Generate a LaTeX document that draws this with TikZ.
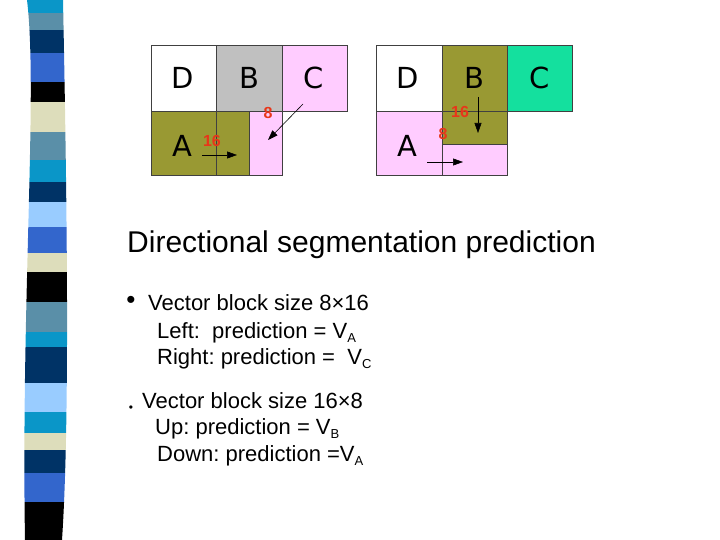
\documentclass[tikz,border=0pt]{standalone}
\usepackage{fontspec}
\setmainfont{Liberation Sans}
\newfontfamily\boxfont{DejaVu Sans}
\usetikzlibrary{arrows.meta}
\frenchspacing

\definecolor{sbcyan}{HTML}{0A96C8}
\definecolor{sbsteel}{HTML}{5A8FA8}
\definecolor{sbnavy}{HTML}{003366}
\definecolor{sbroyal}{HTML}{3366CC}
\definecolor{sbbeige}{HTML}{DDDDBB}
\definecolor{sblight}{HTML}{99CCFF}
\definecolor{mvolive}{HTML}{999933}
\definecolor{mvpink}{HTML}{FFCCFF}
\definecolor{mvgray}{HTML}{C0C0C0}
\definecolor{mvgreen}{HTML}{14E09E}
\definecolor{mvred}{HTML}{E8361A}

\tikzset{
  cell/.style={draw=black!75, line width=0.8pt},
  blk/.style={font=\boxfont\fontsize{29}{29}\selectfont},
  num/.style={text=mvred, inner sep=0pt, font=\bfseries\fontsize{16}{16}\selectfont},
  mv/.style={-{Triangle[length=10pt,width=7pt]}, line width=0.6pt},
  txt/.style={anchor=base west, inner sep=0pt, font=\fontsize{22}{22}\selectfont},
}
\newcommand{\sub}[1]{\raisebox{-4.5pt}{\fontsize{13}{13}\selectfont #1}}

\begin{document}
\begin{tikzpicture}[x=1pt,y=-1pt]
  \useasboundingbox (0,0) rectangle (720,540);

  % side stripe
  \begin{scope}
    \clip (27,0) .. controls (38,90) and (21,300) .. (25,540) -- (62,540)
      .. controls (70,420) and (67,200) .. (63,0) -- cycle;
    \foreach \ya/\yb/\col in {0/13/sbcyan, 13/30/sbsteel, 30/53/sbnavy,
        53/82/sbroyal, 82/102/black, 102/132/sbbeige, 132/160/sbsteel,
        160/182/sbcyan, 182/202/sbnavy, 202/227/sblight, 227/253/sbroyal,
        253/272/sbbeige, 272/302/black, 302/332/sbsteel, 332/347/sbcyan,
        347/383/sbnavy, 383/412/sblight, 412/433/sbcyan, 433/450/sbbeige,
        450/473/sbnavy, 473/502/sbroyal, 502/540/black}
      \fill[\col] (0,\ya) rectangle (90,\yb);
  \end{scope}

  % left block: 8x16
  \draw[cell, fill=white] (151,45) rectangle (216,111);
  \draw[cell, fill=mvgray] (216,45) rectangle (282,111);
  \draw[cell, fill=mvpink] (282,45) rectangle (347,111);
  \draw[cell, fill=mvolive] (151,111) rectangle (249,175);
  \draw[cell] (216,111) -- (216,175);
  \draw[cell, fill=mvpink] (249,111) rectangle (282,175);

  \node[blk] (lD) at (183,78) {D};
  \node[blk] (lB) at (249,78) {B};
  \node[blk] (lC) at (314,78) {C};
  \node[blk] (lA) at (182,146) {A};
  \node[num] (l8) at (268,113) {8};
  \node[num] (l16) at (212,141) {16};

  \coordinate (la1) at (202,155);
  \coordinate (la2) at (237,155);
  \coordinate (lc1) at (303,104);
  \coordinate (lc2) at (268,140);
  \draw[mv] (la1) -- (la2);
  \draw[mv] (lc1) -- (lc2);

  % right block: 16x8
  \draw[cell, fill=white] (376,45) rectangle (442,111);
  \draw[cell, fill=mvolive] (442,45) rectangle (507,111);
  \draw[cell, fill=mvgreen] (507,45) rectangle (572,111);
  \draw[cell, fill=mvpink] (376,111) rectangle (442,175);
  \draw[cell, fill=mvolive] (442,111) rectangle (507,144);
  \draw[cell, fill=mvpink] (442,144) rectangle (507,175);

  \node[blk] (rD) at (408,78) {D};
  \node[blk] (rB) at (474,78) {B};
  \node[blk] (rC) at (540,78) {C};
  \node[blk] (rA) at (407,146) {A};
  \node[num] (r16) at (460,112) {16};
  \node[num] (r8) at (443,134) {8};

  \coordinate (rb1) at (478,97);
  \coordinate (rb2) at (478,133);
  \coordinate (ra1) at (427,162);
  \coordinate (ra2) at (463,162);
  \draw[mv] (rb1) -- (rb2);
  \draw[mv] (ra1) -- (ra2);

  % text
  \node[anchor=base west, inner sep=0pt, font=\fontsize{30}{30}\selectfont] (title) at (127,252)
    {Directional segmentation prediction};

  \node[inner sep=0pt, font=\fontsize{26}{26}\selectfont] (bul1) at (131,302) {•};
  \node[txt] (v1) at (148,310) {Vector block size 8×16};
  \node[txt] (v1a) at (157,338) {Left:\ \ prediction = V\sub{A}};
  \node[txt] (v1b) at (157,364) {Right: prediction = \ V\sub{C}};

  \node[inner sep=0pt, font=\fontsize{12}{12}\selectfont] (bul2) at (131,409) {•};
  \node[txt] (v2) at (142,408) {Vector block size 16×8};
  \node[txt] (v2a) at (155,434) {Up: prediction = V\sub{B}};
  \node[txt] (v2b) at (157,461) {Down: prediction =V\sub{A}};
\end{tikzpicture}
\end{document}
